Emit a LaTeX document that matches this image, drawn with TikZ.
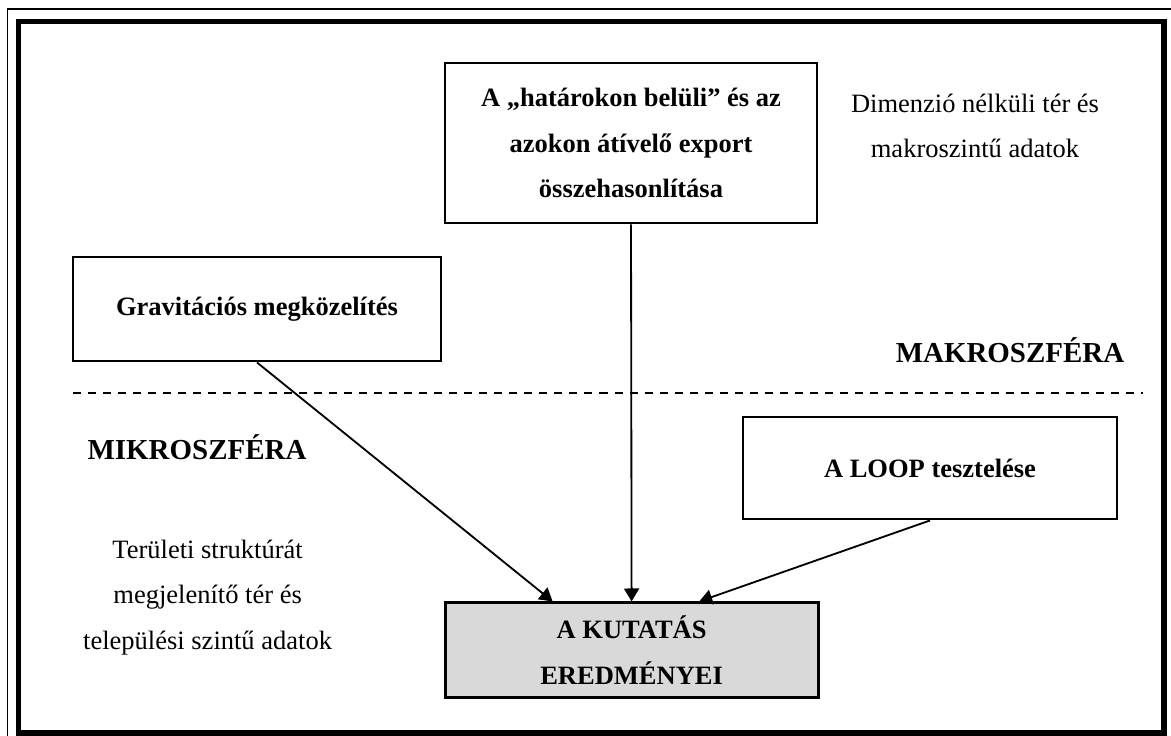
\documentclass[tikz,border=0pt]{standalone}
\usepackage{fontspec}
\setmainfont{Liberation Serif}
\usepackage{xcolor}
\usepackage{tikz}
\usetikzlibrary{positioning}
\usetikzlibrary{arrows.meta}
\usetikzlibrary{calc}

\definecolor{resgray}{RGB}{217,217,217}

\begin{document}
\begin{tikzpicture}[
stage/.style={
  rectangle,
  draw=black,
  line width=2.1pt,
  fill=white,
  inner sep=2pt,
  align=center,
  font=\fontsize{18.85}{32.4}\selectfont\bfseries
},
result/.style={
  stage,
  fill=resgray
},
  sphere/.style={
    font=\fontsize{20.6}{24}\selectfont\bfseries
  },
  note/.style={
    align=center,
    font=\fontsize{18.85}{32.4}\selectfont
  },
  arr/.style={-{Triangle[length=9.2pt,width=10.7pt]}, line width=1.3pt}
]

\useasboundingbox (0,0) rectangle (29.275,-18.4);

% ---- FRAME ----
\draw[line width=1.1pt] (0.19,-18.4) -- (0.19,-0.225) -- (29.275,-0.225);
\draw[line width=3.6pt] (0.4625,-0.5375) rectangle (29.1,-18.325);

% ---- MACRO SIDE ----
\node[stage, minimum width=9.3cm, minimum height=4.0cm] (cmp) at (15.775,-3.575)
  {A „határokon belüli” és az\\azokon átívelő export\\összehasonlítása};

\node[note] (dim) at (24.375,-3.15) {Dimenzió nélküli tér és\\makroszintű adatok};

\node[stage, minimum width=9.2cm, minimum height=2.6cm] (grav) at (6.425,-7.725)
  {Gravitációs megközelítés};

\node[sphere] (makro) at (25.25,-8.75) {MAKROSZFÉRA};

% ---- SEPARATOR ----
\draw[dashed, dash pattern=on 5.7pt off 5pt, line width=1.3pt] (1.825,-9.825) -- (28.575,-9.825);

% ---- MICRO SIDE ----
\node[sphere] (mikro) at (4.925,-11.175) {MIKROSZFÉRA};

\node[stage, minimum width=9.35cm, minimum height=2.55cm] (loop) at (23.25,-11.7)
  {A LOOP tesztelése};

\node[note] (ter) at (5.19,-14.93)
  {Területi struktúrát\\megjelenítő tér és\\települési szintű adatok};

\node[result, minimum width=9.325cm, minimum height=2.375cm] (kut) at (15.79,-16.26)
  {A KUTATÁS\\EREDMÉNYEI};

% ---- ARROWS ----
\draw[arr] (grav.south) -- ($(kut.north west)!0.29!(kut.north east)$);
\draw[arr] (cmp.south) -- (kut.north);
\draw[arr] (loop.south) -- ($(kut.north west)!0.68!(kut.north east)$);

\end{tikzpicture}
\end{document}
